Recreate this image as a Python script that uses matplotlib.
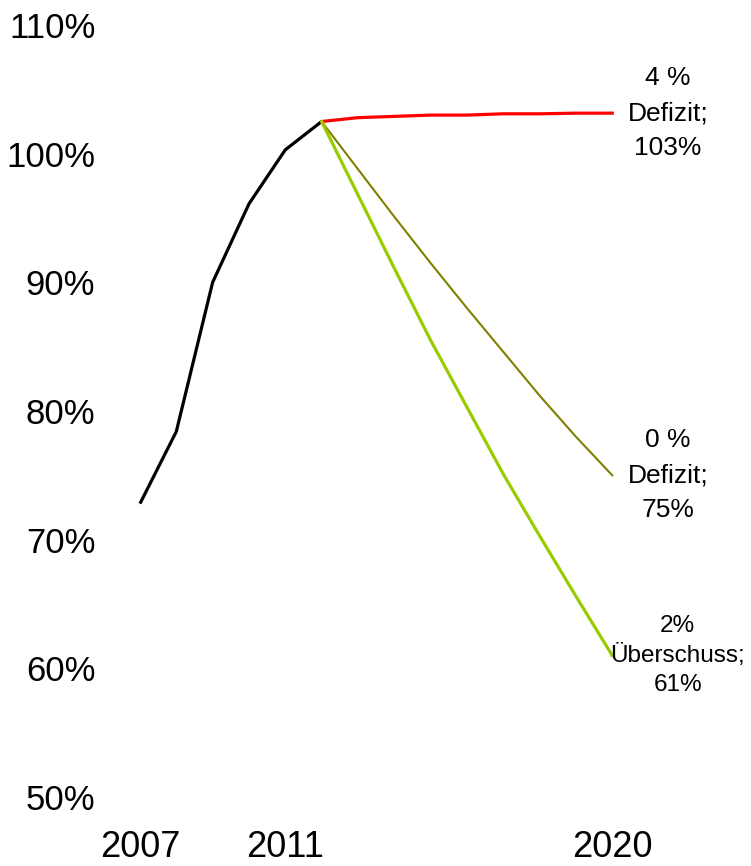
import matplotlib
matplotlib.use("Agg")
import matplotlib.pyplot as plt

plt.rcParams['font.family'] = ['Liberation Sans', 'DejaVu Sans']

# Debt ratio history
hist_years = [2007, 2008, 2009, 2010, 2011, 2012]
hist_vals = [72.8, 78.4, 90.0, 96.1, 100.3, 102.5]

# Scenario projections 2012-2020
proj_years = [2012, 2013, 2014, 2015, 2016, 2017, 2018, 2019, 2020]
deficit4 = [102.5, 102.8, 102.9, 103.0, 103.0, 103.1, 103.1, 103.15, 103.15]
deficit0 = [102.5, 98.8, 95.1, 91.5, 88.0, 84.6, 81.2, 78.0, 75.0]
surplus2 = [102.5, 96.8, 91.1, 85.5, 80.3, 75.1, 70.3, 65.6, 61.0]

scenario_labels = ["4 %\nDefizit;\n103%", "0 %\nDefizit;\n75%", "2%\nÜberschuss;\n61%"]

y_ticks = [50, 60, 70, 80, 90, 100, 110]
x_ticks = [2007, 2011, 2020]

fig = plt.figure(figsize=(7.51, 8.66), dpi=100)
ax = fig.add_axes([0.138, 0.0797, 0.774, 0.8914])

ax.plot(hist_years, hist_vals, color='black', lw=2.3, solid_capstyle='butt')
ax.plot(proj_years, deficit4, color='#ff0000', lw=2.3)
ax.plot(proj_years, deficit0, color='#808000', lw=1.5)
ax.plot(proj_years, surplus2, color='#99cc00', lw=2.3)

ax.text(2021.53, deficit4[-1], scenario_labels[0], ha='center', va='center',
        fontsize=19, linespacing=1.58)
ax.text(2021.53, deficit0[-1], scenario_labels[1], ha='center', va='center',
        fontsize=19, linespacing=1.58)
ax.text(2021.8, surplus2[-1], scenario_labels[2], ha='center', va='center',
        fontsize=17.5, linespacing=1.41)

ax.set_xlim(2006, 2022)
ax.set_ylim(50, 110)
ax.set_yticks(y_ticks)
ax.set_yticklabels([f"{v}%" for v in y_ticks])
ax.set_xticks(x_ticks)
ax.set_xticklabels([str(v) for v in x_ticks])
ax.tick_params(axis='both', length=0)
ax.tick_params(axis='y', pad=6, labelsize=25)
ax.tick_params(axis='x', pad=24, labelsize=26)
for s in ax.spines.values():
    s.set_visible(False)

fig.savefig("out.png", dpi=100)
